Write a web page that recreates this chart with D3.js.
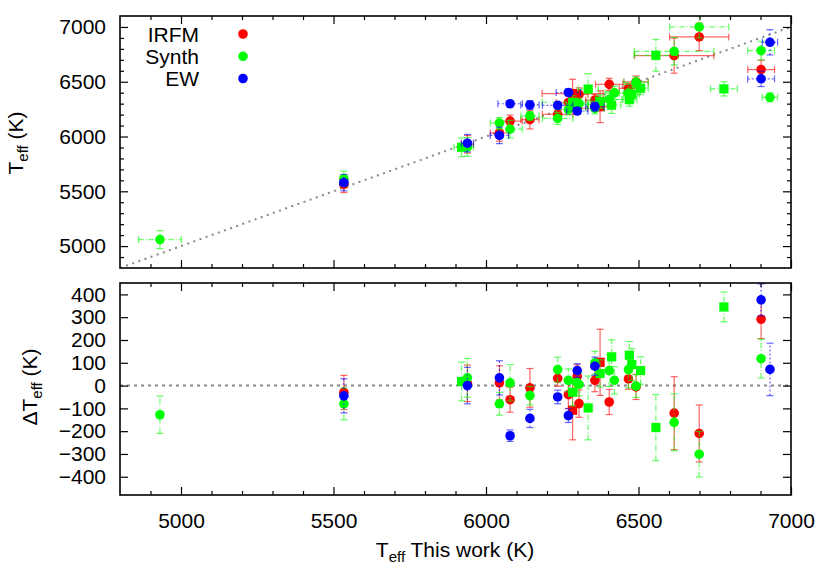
<!DOCTYPE html>
<html><head><meta charset="utf-8">
<script src="https://cdn.jsdelivr.net/npm/d3@7"></script>
<style>
body{margin:0;background:#fff}
text{font-family:"Liberation Sans",Arial,Helvetica,sans-serif;fill:#000}
</style>
</head><body>
<svg id="c" width="830" height="581"></svg>
<script>
// ---------------- data ----------------
const xTickLabels    = [5000, 5500, 6000, 6500, 7000];
const yTopTickLabels = [5000, 5500, 6000, 6500, 7000];
const yBotTickLabels = [-400, -300, -200, -100, 0, 100, 200, 300, 400];

// stars: T_eff from this work, its error, marker shape (c = circle, s = square)
const starTeff    = [4931,5534,5920,5939,6044,6079,6144,6235,6270,6284,6299,6305,6335,6357,6374,6404,6412,6421,6467,6470,6478,6492,6507,6557,6617,6699,6780,6902,6931];
const starTeffErr = [70,  12,  25,  20,  30,  40,  30,  50,  40,  100, 35,  30,  33,  30,  30,  45,  30,  30,  30,  25,  25,  40,  25,  72,  130, 97,  44,  44,  25];
const starShape   = ["c","c","s","c","c","c","c","c","c","s","c","c","s","c","s","c","s","c","c","s","s","c","s","s","c","c","s","c","c"];

// IRFM
const irfmTeff  = [null,5564,null,5929,6032,6141,6154,6203,6310,6392,6258,6384,null,6334,6272,6476,null,null,6438,null,null,6498,null,null,6738,6909,null,6611,null];
const irfmErr   = [null,75,  null,80,  75,  55,  85,  35,  60,  130, 50,  60,  null,50,  145, 55,  null,null,45,  null,null,55,  null,null,160, 125, null,85,  null];
const irfmDelta = [null,-30, null,10,  12,  -62, -10, 32,  -40, -108,41,  -79, null,23,  102, -72, null,null,29,  null,null,-6,  null,null,-121,-210,null,291, null];

// Synth
const synthTeff  = [5059,5614,5902,5905,6124,6067,6188,6165,6247,6313,6287,6300,6433,6257,6321,6338,6286,6398,6397,6337,6386,6494,6441,6741,6778,7000,6435,6784,6358];
const synthErr   = [82,  70,  85,  85,  50,  80,  40,  55,  50,  60,  40,  50,  140, 50,  60,  70,  75,  60,  80,  60,  70,  50,  60,  145, 125, 100, 65,  85,  40];
const synthDelta = [-128,-80, 18,  34,  -80, 12,  -44, 70,  23,  -29, 12,  5,   -98, 100, 53,  66,  126, 23,  70,  133, 92,  -2,  66,  -184,-161,-301,345, 118, 573];

// EW
const ewTeff  = [null,5579,null,5939,6010,6299,6288,6285,6402,null,6233,null,null,6272,null,null,null,null,null,null,null,null,null,null,null,null,null,6526,6860];
const ewErr   = [null,75,  null,80,  75,  25,  40,  30,  30,  null,30,  null,null,40,  null,null,null,null,null,null,null,null,null,null,null,null,null,70,  115];
const ewDelta = [null,-45, null,0,   34,  -220,-144,-50, -132,null,66,  null,null,85,  null,null,null,null,null,null,null,null,null,null,null,null,null,376, 71];

const seriesNames  = ["IRFM", "Synth", "EW"];
const seriesColors = ["#ff0000", "#00ff00", "#0000ff"];
const seriesDashes = [null, "5,2,1,2", "2,2"];

// ---------------- layout ----------------
const svg = d3.select("#c");
const L = 120, R = 791;
const topY0 = 16, topY1 = 268, botY0 = 283, botY1 = 495;

const x = d3.scaleLinear().domain([4800, 7000]).range([L, R]);
const yT = d3.scaleLinear().domain([4800, 7100]).range([topY1, topY0]);
const yB = d3.scaleLinear().domain([-480, 450]).range([botY1, botY0]);

const xMinor = d3.range(4900, 7000, 100).filter(v => v % 500 !== 0);
const yTMinor = d3.range(4900, 7100, 100).filter(v => v % 500 !== 0);

const defs = svg.append("defs");
defs.append("clipPath").attr("id","clipT").append("rect").attr("x",L).attr("y",topY0).attr("width",R-L).attr("height",topY1-topY0);
defs.append("clipPath").attr("id","clipB").append("rect").attr("x",L).attr("y",botY0).attr("width",R-L).attr("height",botY1-botY0);

function axisG(gen, tx, ty, fmt) {
  const g = svg.append("g").attr("transform", `translate(${tx},${ty})`).call(gen);
  g.select(".domain").remove();
  g.selectAll(".tick line").attr("stroke","#000").attr("stroke-width",1.2);
  g.selectAll("text").style("font-size","21px").attr("fill","#000");
  return g;
}
function frame(y, yTicks, yMinor, y0, y1, showX, yPad) {
  // left labels + major ticks
  axisG(d3.axisLeft(y).tickValues(yTicks).tickSize(-8).tickPadding(yPad).tickFormat(d3.format("d")), L, 0);
  axisG(d3.axisRight(y).tickValues(yTicks).tickSize(-8).tickFormat(""), R, 0);
  if (yMinor) {
    axisG(d3.axisLeft(y).tickValues(yMinor).tickSize(-4).tickFormat(""), L, 0);
    axisG(d3.axisRight(y).tickValues(yMinor).tickSize(-4).tickFormat(""), R, 0);
  }
  axisG(d3.axisBottom(x).tickValues(xTickLabels).tickSize(-8).tickPadding(18).tickFormat(showX ? d3.format("d") : ""), 0, y1);
  axisG(d3.axisBottom(x).tickValues(xMinor).tickSize(-4).tickFormat(""), 0, y1);
  axisG(d3.axisTop(x).tickValues(xTickLabels).tickSize(-8).tickFormat(""), 0, y0);
  axisG(d3.axisTop(x).tickValues(xMinor).tickSize(-4).tickFormat(""), 0, y0);
  svg.append("rect").attr("x",L).attr("y",y0).attr("width",R-L).attr("height",y1-y0)
     .attr("fill","none").attr("stroke","#000").attr("stroke-width",1.6);
}

// reference lines
const gT = svg.append("g").attr("clip-path","url(#clipT)");
const gB = svg.append("g").attr("clip-path","url(#clipB)");
gT.append("line").attr("x1",x(4800)).attr("y1",yT(4800)).attr("x2",x(7000)).attr("y2",yT(7000))
  .attr("stroke","#888").attr("stroke-width",2).attr("stroke-dasharray","2,4.5");
gB.append("line").attr("x1",x(4800)).attr("y1",yB(0)).attr("x2",x(7000)).attr("y2",yB(0))
  .attr("stroke","#888").attr("stroke-width",2).attr("stroke-dasharray","3,4");

function styleBar(sel, k) {
  sel.attr("stroke", seriesColors[k]).attr("stroke-opacity",0.6).attr("stroke-width",1.2).attr("fill","none");
  if (seriesDashes[k]) sel.attr("stroke-dasharray", seriesDashes[k]);
  return sel;
}
function vbar(g, cx, ya, yb, k) {
  styleBar(g.append("line").attr("x1",cx).attr("x2",cx).attr("y1",ya).attr("y2",yb), k);
  [ya, yb].forEach(yy => styleBar(g.append("line").attr("x1",cx-3.5).attr("x2",cx+3.5).attr("y1",yy).attr("y2",yy), k).attr("stroke-dasharray",null));
}
function hbar(g, cy, xa, xb, k) {
  styleBar(g.append("line").attr("y1",cy).attr("y2",cy).attr("x1",xa).attr("x2",xb), k);
  [xa, xb].forEach(xx => styleBar(g.append("line").attr("y1",cy-3.5).attr("y2",cy+3.5).attr("x1",xx).attr("x2",xx), k).attr("stroke-dasharray",null));
}
function marker(g, shape, cx, cy, color) {
  if (shape === "s") g.append("rect").attr("x",cx-4.6).attr("y",cy-4.6).attr("width",9.2).attr("height",9.2).attr("fill",color);
  else g.append("circle").attr("cx",cx).attr("cy",cy).attr("r",4.8).attr("fill",color);
}

const seriesVals   = [irfmTeff, synthTeff, ewTeff];
const seriesErrs   = [irfmErr, synthErr, ewErr];
const seriesDeltas = [irfmDelta, synthDelta, ewDelta];

seriesNames.forEach((name, k) => {
  starTeff.forEach((tx, i) => {
    const v = seriesVals[k][i];
    if (v == null) return;
    const e = seriesErrs[k][i], d = seriesDeltas[k][i], xe = starTeffErr[i];
    // top panel
    hbar(gT, yT(v), x(tx - xe), x(tx + xe), k);
    vbar(gT, x(tx), yT(v - e), yT(v + e), k);
    marker(gT, starShape[i], x(tx), yT(v), seriesColors[k]);
    // bottom panel
    vbar(gB, x(tx), yB(d - e), yB(d + e), k);
    marker(gB, starShape[i], x(tx), yB(d), seriesColors[k]);
  });
});

frame(yT, yTopTickLabels, yTMinor, topY0, topY1, false, 14);
frame(yB, yBotTickLabels, null, botY0, botY1, true, 14);

// legend
const legBase = [41.5, 63.8, 86];
seriesNames.forEach((name, k) => {
  svg.append("text").attr("x",199).attr("y",legBase[k]).attr("text-anchor","end").style("font-size","21px").text(name);
  svg.append("circle").attr("cx",243).attr("cy",legBase[k]-7.5).attr("r",4.8).attr("fill",seriesColors[k]);
});

// axis titles
function teffLabel(g, pre, post) {
  const t = g.append("text").attr("text-anchor","middle").style("font-size","21px");
  t.append("tspan").text(pre + "T");
  t.append("tspan").attr("dy",5).style("font-size","15px").text("eff");
  t.append("tspan").attr("dy",-5).text(post);
  return t;
}
teffLabel(svg.append("g").attr("transform","translate(23,143) rotate(-90)"), "", " (K)");
teffLabel(svg.append("g").attr("transform","translate(37,387) rotate(-90)"), "\u0394", " (K)");
teffLabel(svg.append("g").attr("transform","translate(455,557)"), "", " This work (K)");
</script>
</body></html>
